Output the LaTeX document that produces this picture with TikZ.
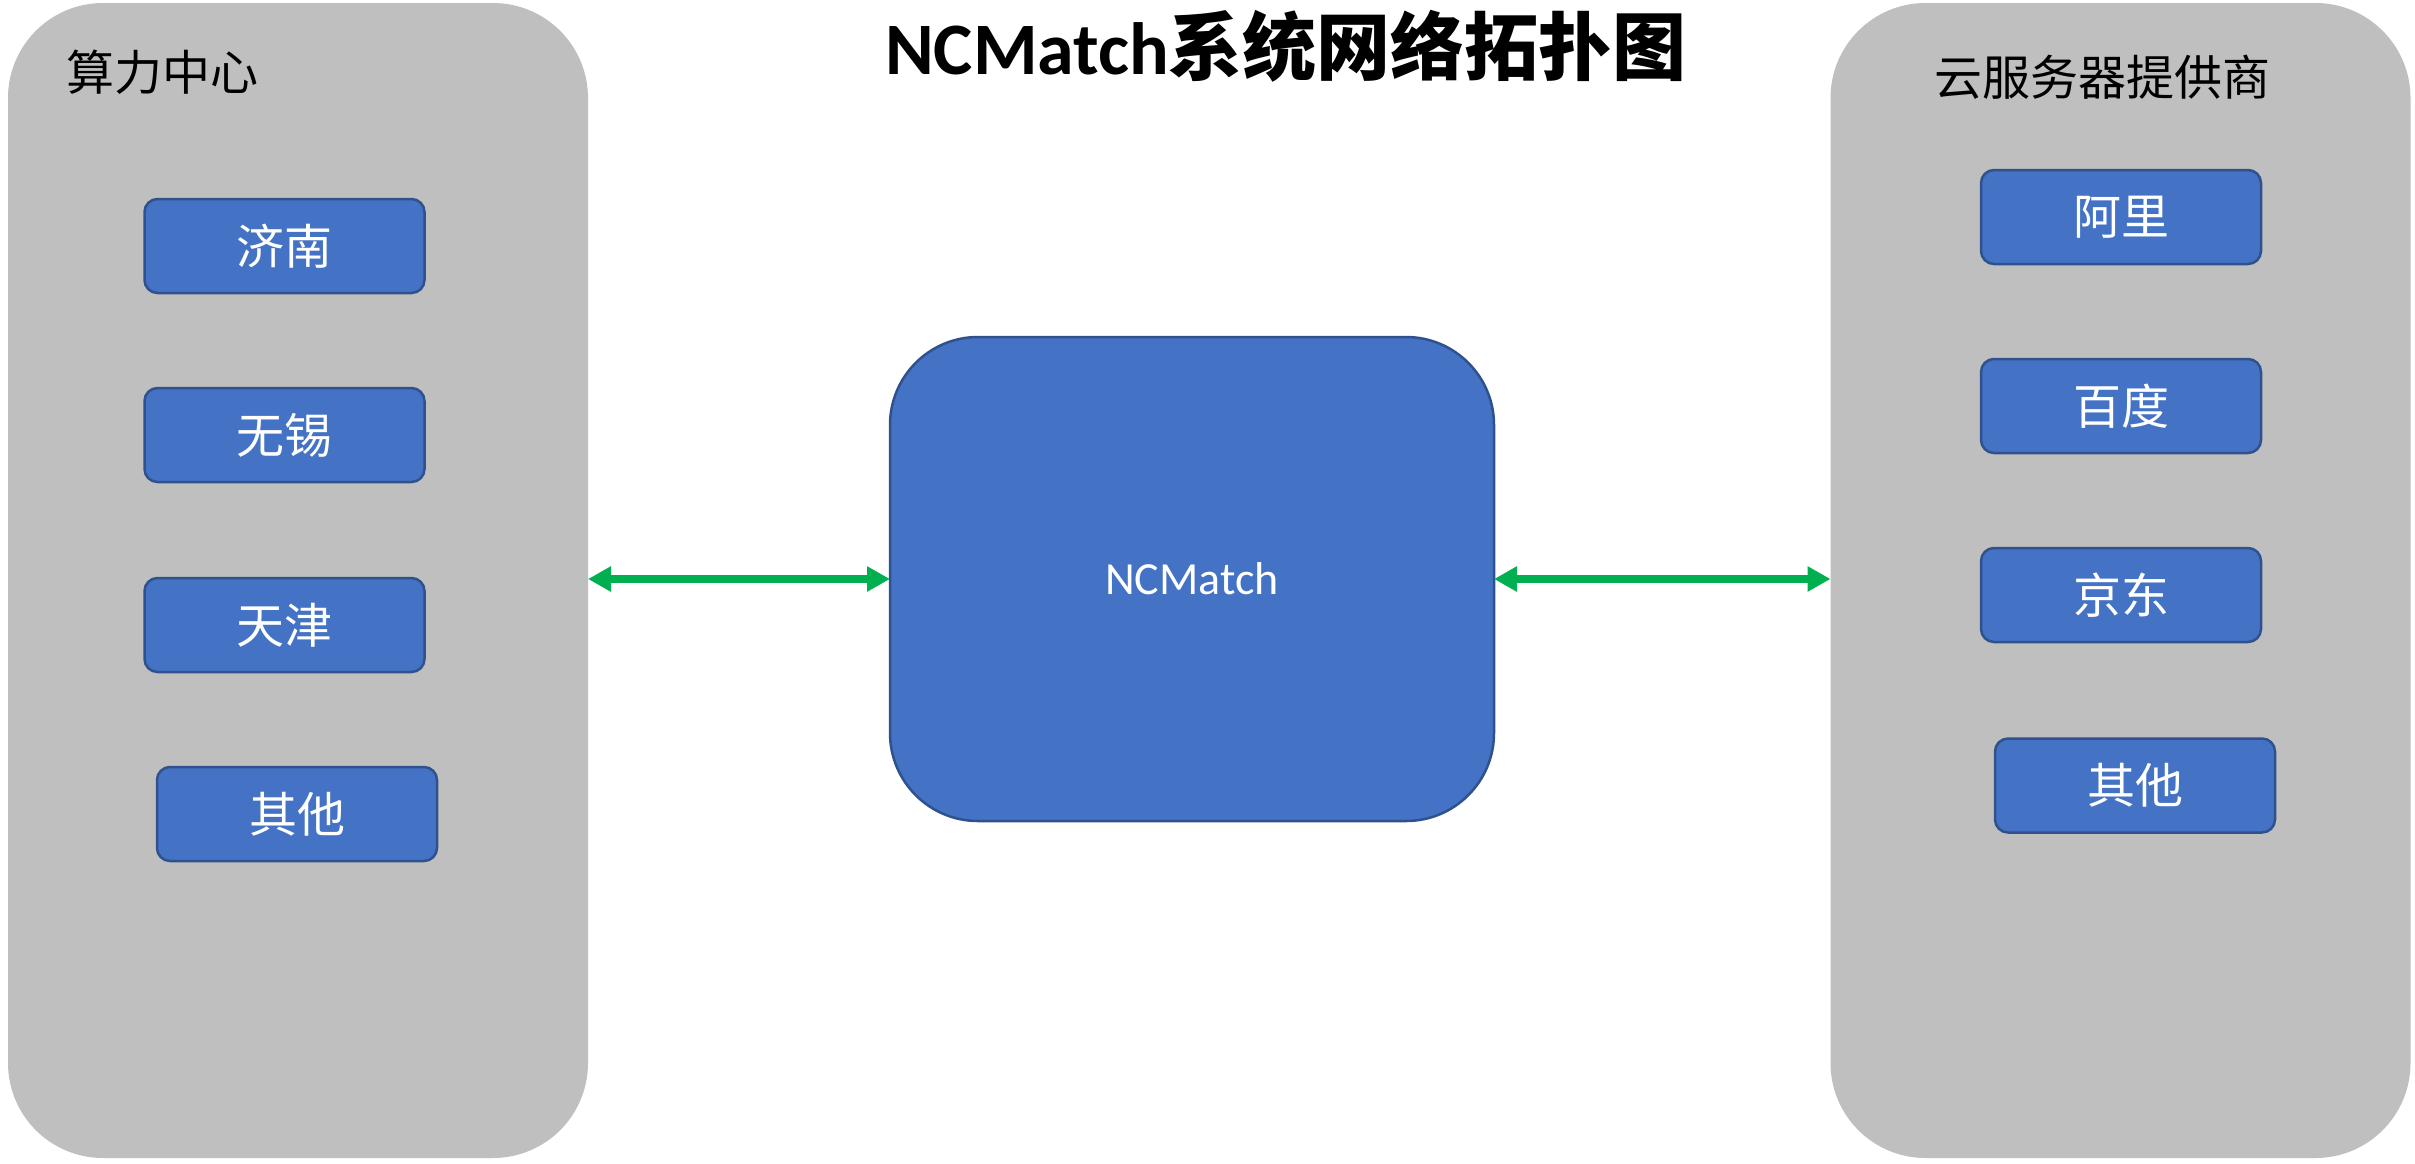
\documentclass[tikz,border=0pt]{standalone}
\usepackage{fontspec}
\setmainfont{Carlito}
\newfontfamily\cjk{Noto Sans CJK SC}
\usetikzlibrary{arrows.meta}
\definecolor{panelgray}{HTML}{BFBFBF}
\definecolor{boxblue}{HTML}{4472C4}
\definecolor{boxedge}{HTML}{2F528F}
\definecolor{arrgreen}{HTML}{00B050}
\tikzset{
  panel/.style={fill=panelgray, draw=none, rounded corners=95pt, inner sep=0pt, outer sep=0pt, minimum width=580pt, minimum height=1155pt},
  sitebox/.style={fill=boxblue, draw=boxedge, line width=2.5pt, rounded corners=13pt, inner sep=0pt, outer sep=0pt, minimum width=280pt, minimum height=94pt, text=white, font=\cjk\fontsize{48}{56}\selectfont},
  hub/.style={fill=boxblue, draw=boxedge, line width=2.5pt, rounded corners=88pt, inner sep=0pt, outer sep=0pt, minimum width=604pt, minimum height=484pt, text=white, font=\fontsize{46}{54}\selectfont},
  paneltitle/.style={anchor=west, inner sep=0pt, text=black, font=\cjk\fontsize{48}{56}\selectfont},
  link/.style={draw=arrgreen, line width=7.5pt, {Triangle[length=23pt,width=24pt]}-{Triangle[length=23pt,width=24pt]}, shorten <=0pt, shorten >=0pt}
}
\begin{document}
\begin{tikzpicture}[x=1pt,y=-1pt]
\useasboundingbox[fill=white] (0,0) rectangle (2415,1163);
% panels
\node[panel] (L) at (298,580.5) {};
\node[panel] (R) at (2120.5,580.5) {};
% title
\node[inner sep=0pt, font=\bfseries\fontsize{74}{84}\selectfont] (title) at (1286,46) {NCMatch{\cjk 系统网络拓扑图}};
% panel titles
\node[paneltitle] (Lt) at (66,72) {算力中心};
\node[paneltitle] (Rt) at (1934,77) {云服务器提供商};
% left boxes
\node[sitebox] (jn) at (284.5,246) {济南};
\node[sitebox] (wx) at (284.5,435) {无锡};
\node[sitebox] (tj) at (284.5,625) {天津};
\node[sitebox] (lo) at (297,814) {其他};
% right boxes
\node[sitebox] (al) at (2121,217) {阿里};
\node[sitebox] (bd) at (2121,406) {百度};
\node[sitebox] (jd) at (2121,595) {京东};
\node[sitebox] (ro) at (2135,785.5) {其他};
% hub
\node[hub] (C) at (1192,579) {NCMatch};
% links
\draw[link] (C.west -| L.east) -- (C.west);
\draw[link] (C.east) -- (C.east -| R.west);
\end{tikzpicture}
\end{document}
